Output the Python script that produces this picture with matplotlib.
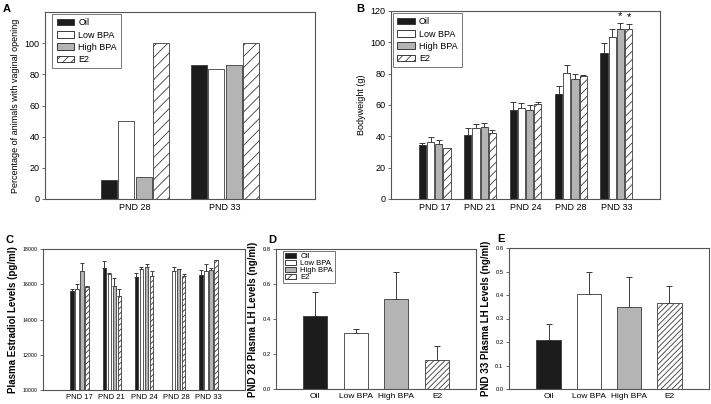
import matplotlib
matplotlib.use("Agg")
import matplotlib.pyplot as plt
import numpy as np

plt.rcParams['font.family'] = ['Liberation Sans', 'DejaVu Sans']
plt.rcParams['hatch.linewidth'] = 0.6

groups = ["Oil", "Low BPA", "High BPA", "E2"]
colors = ["#1c1c1c", "#ffffff", "#b4b4b4", "#ffffff"]
hatches = [None, None, None, "////"]

# Panel A
a_days = ["PND 28", "PND 33"]
a_oil = [12.5, 85.7]
a_low = [50.0, 83.3]
a_high = [14.3, 85.7]
a_e2 = [100.0, 100.0]

# Panel B
b_days = ["PND 17", "PND 21", "PND 24", "PND 28", "PND 33"]
b_oil = [34.2, 40.8, 56.5, 66.9, 93.4]
b_low = [36.1, 45.6, 58.0, 80.7, 103.6]
b_high = [35.0, 45.9, 56.9, 76.9, 108.3]
b_e2 = [32.3, 42.0, 60.5, 78.6, 108.3]
b_oil_err = [1.5, 4.6, 5.3, 5.5, 6.0]
b_low_err = [3.4, 2.0, 3.1, 4.7, 5.1]
b_high_err = [2.4, 2.3, 3.0, 3.1, 4.2]
b_e2_err = [0.4, 2.2, 1.3, 0.6, 3.6]
b_sig = [[False]*5, [False]*5, [False, False, False, False, True], [False, False, False, False, True]]

# Panel C
c_days = ["PND 17", "PND 21", "PND 24", "PND 28", "PND 33"]
c_oil = [15600, 16900, 16400, np.nan, 16500]
c_low = [15750, 16600, 16850, 16750, 16750]
c_high = [16750, 15900, 17000, 16850, 16800]
c_e2 = [15850, 15350, 16450, 16450, 17350]
c_oil_err = [150, 400, 250, np.nan, 300]
c_low_err = [250, 20, 150, 250, 400]
c_high_err = [450, 450, 150, 30, 150]
c_e2_err = [30, 380, 300, 150, 30]

# Panel D
d_vals = [0.42, 0.318, 0.517, 0.163]
d_err = [0.132, 0.023, 0.152, 0.083]

# Panel E
e_vals = [0.21, 0.406, 0.349, 0.367]
e_err = [0.068, 0.093, 0.129, 0.071]

W, H = 711, 404
fig = plt.figure(figsize=(W/100, H/100), dpi=100)

def ax_px(l, r, t, b):
    return fig.add_axes([l/W, (H-b)/H, (r-l)/W, (b-t)/H])

EDGE = "#3a3a3a"
SPINE = "#555555"

def style(ax, tick_fs, lw=0.8):
    for s in ax.spines.values():
        s.set_color(SPINE)
        s.set_linewidth(lw)
    ax.tick_params(axis='y', labelsize=tick_fs, length=2.5, width=0.6, color=SPINE, pad=1.5)
    ax.tick_params(axis='x', length=0, pad=3)

def grouped(ax, x, series, errs, width, step, hatch_list, capsize):
    n = len(series)
    for i, vals in enumerate(series):
        pos = np.asarray(x) + (i - (n-1)/2) * step
        ax.bar(pos, vals, width=width, color=colors[i], edgecolor=EDGE,
               linewidth=0.6, hatch=hatch_list[i], zorder=2)
        if errs is not None:
            e = np.asarray(errs[i], dtype=float)
            ax.errorbar(pos, vals, yerr=[np.zeros_like(e), e], fmt='none',
                        ecolor=EDGE, elinewidth=0.7, capsize=capsize, capthick=0.7, zorder=1)

def legend(ax, fs, anchor, hl, hh, ls, pad=0.5):
    from matplotlib.patches import Patch
    handles = [Patch(facecolor=colors[i], edgecolor=EDGE, linewidth=0.7,
                     hatch=(hatches[i] if i == 3 else None)) for i in range(4)]
    leg = ax.legend(handles, groups, loc='upper left', bbox_to_anchor=anchor,
                    fontsize=fs, handlelength=hl, handleheight=hh, labelspacing=ls,
                    borderpad=pad, handletextpad=0.5, frameon=True, fancybox=False,
                    borderaxespad=0)
    leg.get_frame().set_edgecolor(SPINE)
    leg.get_frame().set_linewidth(0.7)
    return leg

# ---------- A ----------
axA = ax_px(45, 315, 12, 199)
xa = np.arange(1, len(a_days)+1)
grouped(axA, xa, [a_oil, a_low, a_high, a_e2], None, 0.175, 0.195, [None, None, None, "///"], 0)
axA.set_xlim(0, 3)
axA.set_ylim(0, 120)
axA.set_yticks([0, 20, 40, 60, 80, 100])
axA.set_xticks(xa)
axA.set_xticklabels(a_days, fontsize=6.5)
axA.set_ylabel("Percentage of animals with vaginal opening", fontsize=6.5, labelpad=3)
style(axA, 6.5)
legend(axA, 6.5, (0.026, 0.99), 1.9, 0.7, 0.35)
fig.text(3/W, 1 - 9/H, "A", fontsize=8, fontweight='bold', va='center', ha='left')

# ---------- B ----------
axB = ax_px(391, 660, 11, 199)
xb = np.arange(len(b_days))
bser = [b_oil, b_low, b_high, b_e2]
berr = [b_oil_err, b_low_err, b_high_err, b_e2_err]
grouped(axB, xb, bser, berr, 0.16, 0.18, [None, None, None, "////"], 2.2)
for i in range(4):
    pos = xb + (i - 1.5) * 0.18
    for j in range(len(xb)):
        if b_sig[i][j]:
            axB.text(pos[j], bser[i][j] + berr[i][j] + 0.8, "*", ha='center', va='bottom', fontsize=8)
axB.set_xlim(-0.96, 4.96)
axB.set_ylim(0, 120)
axB.set_yticks(np.arange(0, 121, 20))
axB.set_xticks(xb)
axB.set_xticklabels(b_days, fontsize=6.5)
axB.set_ylabel("Bodyweight (g)", fontsize=6.5, labelpad=3)
style(axB, 6.5)
legend(axB, 6.5, (0.007, 0.99), 1.9, 0.7, 0.35)
fig.text(356/W, 1 - 9/H, "B", fontsize=8, fontweight='bold', va='center', ha='left')

# ---------- C ----------
axC = ax_px(43, 245, 249, 390)
xc = np.arange(len(c_days))
grouped(axC, xc, [c_oil, c_low, c_high, c_e2],
        [c_oil_err, c_low_err, c_high_err, c_e2_err], 0.105, 0.155,
        [None, None, None, "//////"], 1.3)
axC.set_xlim(-1.13, 5.13)
axC.set_ylim(10000, 18000)
axC.set_yticks(np.arange(10000, 18001, 2000))
axC.set_xticks(xc)
axC.set_xticklabels(c_days, fontsize=5.5)
axC.set_ylabel("Plasma Estradiol Levels (pg/ml)", fontsize=7, fontweight='bold', labelpad=3)
style(axC, 3.8)
fig.text(6/W, 1 - 240/H, "C", fontsize=8, fontweight='bold', va='center', ha='left')

# ---------- D ----------
axD = ax_px(276, 476, 249, 389)
xd = np.arange(len(groups))
for i in range(4):
    axD.bar(xd[i], d_vals[i], width=0.59, color=colors[i], edgecolor=EDGE, linewidth=0.6,
            hatch=("//////" if i == 3 else None), zorder=2)
axD.errorbar(xd, d_vals, yerr=[np.zeros(4), d_err], fmt='none', ecolor=EDGE,
             elinewidth=0.7, capsize=2, capthick=0.7, zorder=1)
axD.set_xlim(-0.96, 3.96)
axD.set_ylim(0, 0.8)
axD.set_yticks(np.arange(0, 0.81, 0.2))
axD.set_yticklabels([f"{v:.1f}" for v in np.arange(0, 0.81, 0.2)])
axD.set_xticks(xd)
axD.set_xticklabels(groups, fontsize=6)
axD.set_ylabel("PND 28 Plasma LH Levels (ng/ml)", fontsize=7, fontweight='bold', labelpad=3)
style(axD, 4.2)
legend(axD, 5.5, (0.035, 0.985), 1.5, 0.55, 0.0, pad=0.25)
fig.text(268/W, 1 - 240/H, "D", fontsize=8, fontweight='bold', va='center', ha='left')

# ---------- E ----------
axE = ax_px(509, 709, 248, 389)
xe = np.arange(len(groups))
for i in range(4):
    axE.bar(xe[i], e_vals[i], width=0.6, color=colors[i], edgecolor=EDGE, linewidth=0.6,
            hatch=("//////" if i == 3 else None), zorder=2)
axE.errorbar(xe, e_vals, yerr=[np.zeros(4), e_err], fmt='none', ecolor=EDGE,
             elinewidth=0.7, capsize=2, capthick=0.7, zorder=1)
axE.set_xlim(-0.98, 3.98)
axE.set_ylim(0, 0.6)
axE.set_yticks(np.arange(0, 0.61, 0.1))
axE.set_yticklabels([f"{v:.1f}" for v in np.arange(0, 0.61, 0.1)])
axE.set_xticks(xe)
axE.set_xticklabels(groups, fontsize=6)
axE.set_ylabel("PND 33 Plasma LH Levels (ng/ml)", fontsize=7, fontweight='bold', labelpad=3)
style(axE, 4.2)
fig.text(497/W, 1 - 239/H, "E", fontsize=8, fontweight='bold', va='center', ha='left')

fig.savefig("out.png", dpi=100)
